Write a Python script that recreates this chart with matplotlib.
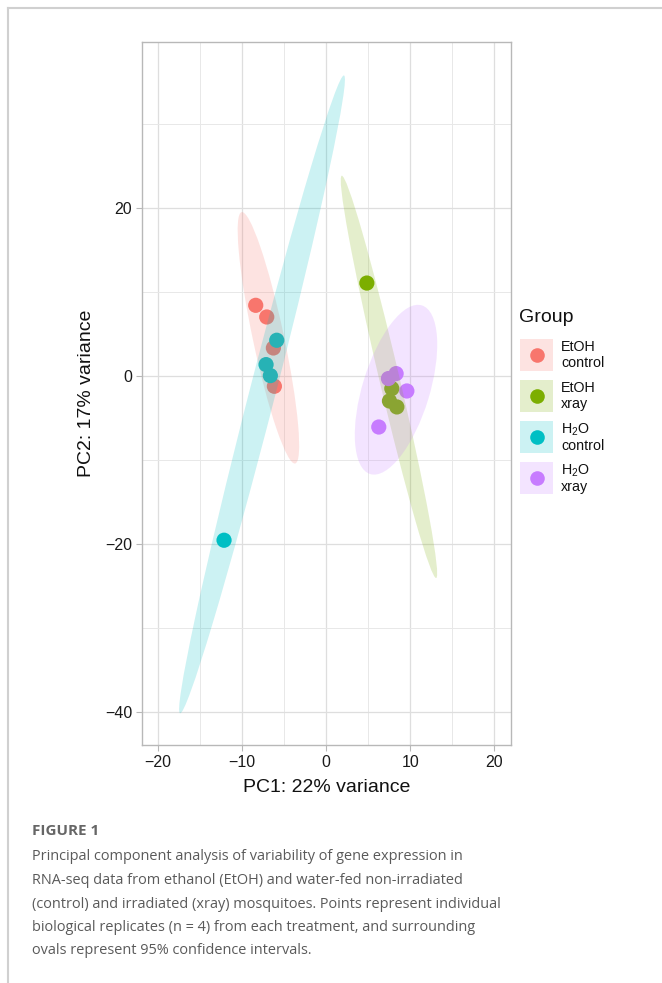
import numpy as np
import matplotlib
matplotlib.use("Agg")
import matplotlib.pyplot as plt
from matplotlib.patches import Ellipse, Rectangle
from matplotlib.lines import Line2D

plt.rcParams['font.family'] = ['Liberation Sans', 'DejaVu Sans']
plt.rcParams['mathtext.fontset'] = 'custom'
plt.rcParams['mathtext.rm'] = 'Liberation Sans'
plt.rcParams['mathtext.it'] = 'Liberation Sans'

## data ##
groups = ["EtOH\ncontrol", "EtOH\nxray", "H$_2$O\ncontrol", "H$_2$O\nxray"]
colors = ["#F8766D", "#7CAE00", "#00BFC4", "#C77CFF"]

pc1 = [
    [-8.37, -7.06, -6.27, -6.15],
    [4.85, 7.82, 7.54, 8.42],
    [-5.87, -7.14, -6.63, -12.14],
    [7.42, 8.33, 9.61, 6.27],
]
pc2 = [
    [8.45, 7.06, 3.37, -1.19],
    [11.1, -1.46, -2.94, -3.65],
    [4.29, 1.39, 0.08, -19.52],
    [-0.27, 0.32, -1.75, -6.04],
]

# 95% ellipses
ell_cx = [-6.86, 7.48, -7.62, 8.32]
ell_cy = [4.58, -0.07, -2.15, -1.6]
ell_major = [30.6, 49.2, 78.4, 21.0]
ell_minor = [3.7, 2.4, 3.1, 8.0]
ell_angle = [12.0, 13.2, -14.4, -17.0]

xticks = [-20, -10, 0, 10, 20]
yticks = [-40, -20, 0, 20]

caption = [
    "Principal component analysis of variability of gene expression in",
    "RNA-seq data from ethanol (EtOH) and water-fed non-irradiated",
    "(control) and irradiated (xray) mosquitoes. Points represent individual",
    "biological replicates (n = 4) from each treatment, and surrounding",
    "ovals represent 95% confidence intervals.",
]

W, H = 662, 983
fig = plt.figure(figsize=(W / 100, H / 100), dpi=100)
fig.patch.set_facecolor("white")

def fx(px):
    return px / W

def fy(py):
    return 1 - py / H

ax = fig.add_axes([fx(142), fy(745), fx(511) - fx(142), fy(42) - fy(745)])

## points ##
for i in range(4):
    ax.scatter(pc1[i], pc2[i], s=120, color=colors[i], edgecolors="none", zorder=3)

## ellipses on top of points ##
for i in range(4):
    e = Ellipse((ell_cx[i], ell_cy[i]), ell_minor[i], ell_major[i], angle=ell_angle[i],
                facecolor=colors[i], alpha=0.2, edgecolor="none", zorder=4)
    ax.add_patch(e)

ax.set_xlim(-21.9, 22.0)
ax.set_ylim(-43.9, 39.8)
ax.set_xticks(xticks)
ax.set_yticks(yticks)
ax.set_xticks([-15, -5, 5, 15], minor=True)
ax.set_yticks([-30, -10, 10, 30], minor=True)
ax.set_xticklabels(["\u221220", "\u221210", "0", "10", "20"])
ax.set_yticklabels(["\u221240", "\u221220", "0", "20"])
ax.grid(True, which="major", color="#dedede", lw=0.9, zorder=0)
ax.grid(True, which="minor", color="#e8e8e8", lw=0.7, zorder=0)
ax.set_axisbelow(True)
for sp in ax.spines.values():
    sp.set_color("#b8b8b8")
    sp.set_linewidth(1.0)
ax.tick_params(which="major", length=4, width=0.8, color="#b8b8b8",
               labelsize=11.5, labelcolor="#1a1a1a", pad=3)
ax.tick_params(which="minor", length=0)
ax.set_xlabel("PC1: 22% variance", fontsize=14, color="#111111", labelpad=7)
ax.set_ylabel("PC2: 17% variance", fontsize=14, color="#111111", labelpad=7)

## legend drawn by hand ##
fig.text(fx(519), fy(318), "Group", fontsize=14, color="#111111", va="center", ha="left")
key_y = [355, 396, 437, 478]
for i in range(4):
    r = Rectangle((fx(520), fy(key_y[i] + 16)), fx(33), 32 / H, transform=fig.transFigure,
                  facecolor=colors[i], alpha=0.2, edgecolor="none")
    fig.add_artist(r)
    fig.add_artist(Line2D([fx(536.5)], [fy(key_y[i])], marker="o", markersize=10.5,
                          color=colors[i], markeredgewidth=0, transform=fig.transFigure))
    fig.text(fx(561), fy(key_y[i]), groups[i], fontsize=10.3, color="#111111",
             va="center", ha="left", linespacing=1.1)

## outer frame ##
fig.add_artist(Line2D([fx(8), fx(8)], [fy(8), 0], color="#d0d0d0", lw=1.5, transform=fig.transFigure))
fig.add_artist(Line2D([fx(8), 1], [fy(8), fy(8)], color="#d0d0d0", lw=1.5, transform=fig.transFigure))

## caption ##
fig.text(fx(32), fy(831), "FIGURE 1", fontsize=11, fontweight="bold", color="#666666",
         family=["Open Sans", "DejaVu Sans"], va="center", ha="left")
for k, line in enumerate(caption):
    fig.text(fx(32), fy(857 + k * 23.5), line, fontsize=10.45, color="#5a5a5a",
             family=["Open Sans", "DejaVu Sans"], va="center", ha="left")

fig.savefig("out.png", dpi=100, facecolor="white")
